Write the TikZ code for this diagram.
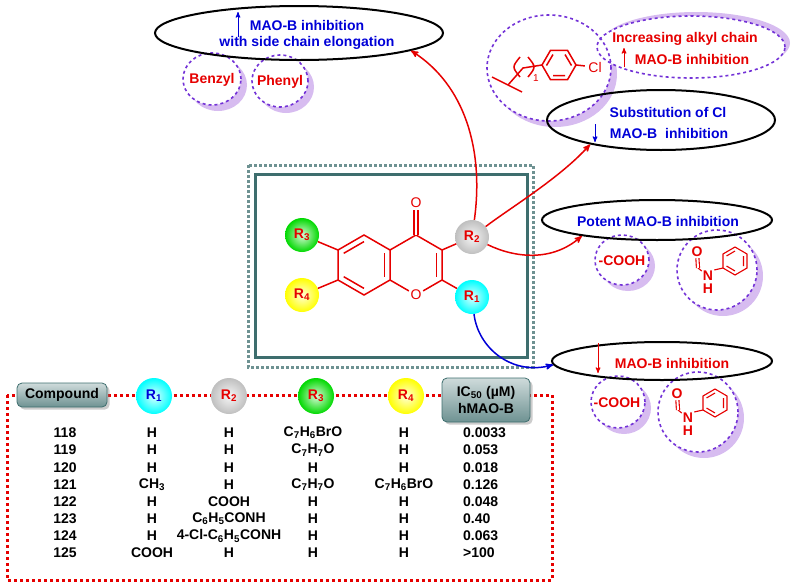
\documentclass[tikz,border=0pt]{standalone}
\usepackage{fontspec}
\setmainfont{Liberation Sans}
\usetikzlibrary{arrows,shapes,shadows,calc}

\definecolor{mred}{RGB}{230,0,0}
\definecolor{mblue}{RGB}{0,0,215}
\definecolor{mviolet}{RGB}{115,50,215}
\definecolor{mshade}{RGB}{215,188,240}
\definecolor{mteal}{RGB}{62,110,110}

\begin{document}
\begin{tikzpicture}[x=1pt,y=-1pt,>=stealth',font=\fontsize{14}{17}\selectfont\bfseries]
  \tikzset{
    oval/.style={ellipse,draw,line width=2pt,inner sep=0pt},
    dring/.style={ellipse,draw=mviolet,dashed,line width=1.6pt,inner sep=0pt},
    rball/.style={circle,inner sep=0pt,minimum size=34pt,shading=radial,inner color=#1!15!white,outer color=#1},
    bond/.style={mred,line width=1.5pt},
    link/.style={->,line width=1.5pt},
    hbox/.style={rounded corners=5pt,draw=mteal,line width=0.8pt,top color=mteal!25!white,bottom color=mteal!75,drop shadow={opacity=0.4}},
    mini/.style={->,line width=1pt}
  }
  \useasboundingbox (0,0) rectangle (793,587);

  % shaded rings round the side groups
  \foreach \x/\y/\w/\h/\sx/\sy in {212/79/58/52/6/6, 280/81/56/52/6/6, 549/68/124/106/6/6,
      691/47/188/62/5/-4, 622/260/54/50/6/6, 717/270/80/80/6/6, 618/402/54/52/6/6, 698/412/80/80/6/6} {
    \fill[mshade] (\x+\sx,\y+\sy) ellipse [x radius=\w/2, y radius=\h/2];
    \fill[white] (\x,\y) ellipse [x radius=\w/2, y radius=\h/2];
  }
  \foreach \n/\x/\y/\w/\h in {bz/212/79/58/52, ph/280/81/56/52, fr/549/68/124/106, inc/691/47/188/62,
      ca/622/260/54/50, aa/717/270/80/80, cb/618/402/54/52, ab/698/412/80/80}
    \node[dring,minimum width=\w pt,minimum height=\h pt] (\n) at (\x,\y) {};

  % black ovals
  \node[oval,minimum width=288pt,minimum height=54pt] (top) at (299,33) {};
  \node[oval,minimum width=228pt,minimum height=60pt] (sub) at (661,120) {};
  \node[oval,minimum width=230pt,minimum height=40pt] (pot) at (657,220) {};
  \node[oval,minimum width=220pt,minimum height=38pt] (low) at (662,361) {};

  % texts
  \node[mblue] (t1) at (307,25) {MAO-B inhibition};
  \node[mblue] (t2) at (307,43) {with side chain elongation};
  \draw[mini,mblue] (238,37) -- (238,12);
  \node[mred] (t3) at (212,80) {Benzyl};
  \node[mred] (t4) at (280,82) {Phenyl};
  \node[mred] (t5) at (685,39) {Increasing alkyl chain};
  \node[mred] (t6) at (692,59) {MAO-B inhibition};
  \draw[mini,mred] (624,67) -- (624,48);
  \node[mblue] (t7) at (668,112) {Substitution of Cl};
  \node[mblue] (t8) at (669,133) {MAO-B\ \ inhibition};
  \draw[mini,mblue] (595,124) -- (595,142);
  \node[mblue] (t9) at (658,221) {Potent MAO-B inhibition};
  \node[mred] (t10) at (672,363) {MAO-B inhibition};
  \draw[mini,mred] (598,343) -- (598,373);
  \node[mred] (t11) at (622,261) {-COOH};
  \node[mred] (t12) at (617,403) {-COOH};

  % 4-chlorobenzyl fragment
  \draw[bond] (492,77) -- (522,92);
  \draw[bond] (508,85) -- (523,68) -- (542,65);
  \draw[bond] (520,57) .. controls (512,67) .. (520,77);
  \draw[bond] (528,57) .. controls (536,67) .. (528,77);
  \node[mred,font=\fontsize{10}{12}\selectfont] (sub1) at (536,78) {1};
  \draw[bond] (542,65) -- (550.5,50.3) -- (567.5,50.3) -- (576,65) -- (567.5,79.7) -- (550.5,79.7) -- cycle;
  \draw[bond] (546.5,65.5) -- (553,54.5) (553,75.5) -- (565,75.5) (565,54.5) -- (571.5,65.5);
  \node[mred,font=\fontsize{14}{17}\selectfont] (cl) at (595,67) {Cl};
  \draw[bond] (576,65) -- (cl);

  % benzanilide type groups
  \foreach \dx/\dy/\k in {0/0/a,-20/142/b} {
    \begin{scope}[shift={(\dx,\dy)}]
      \node[mred,inner sep=1pt] (o\k) at (697,252) {O};
      \node[mred,inner sep=1pt] (n\k) at (708,276) {N};
      \node[mred,inner sep=1pt] (h\k) at (708,289) {H};
      \coordinate (f\k) at (698,268);
      \draw[bond,line width=1.1pt] (723,268) -- (723,254) -- (735,247) -- (747,254) -- (747,268) -- (735,275) -- cycle;
      \draw[bond,line width=1.1pt] (726.5,256) -- (735,251) (743.5,256) -- (743.5,266) (726.5,266) -- (735,271);
      \draw[bond,line width=1.1pt] (n\k.north east) -- (723,268);
      \draw[bond,line width=1.1pt] (f\k) -- (n\k);
      \draw[bond,line width=1.1pt,double,double distance=2pt] (f\k) -- (o\k);
    \end{scope}
  }

  % scaffold frame
  \draw[mteal!75,line width=3pt,dash pattern=on 3pt off 2pt] (248,165) rectangle (533,367);
  \draw[mteal,line width=3pt] (255,174) rectangle (527,357);

  % chromone core
  \coordinate (bc) at (364,265);
  \coordinate (pc) at (416,265);
  \coordinate (c5) at (364,235);
  \coordinate (c6) at (338,250);
  \coordinate (c7) at (338,280);
  \coordinate (c8) at (364,295);
  \coordinate (c8a) at (390,280);
  \coordinate (c4a) at (390,250);
  \coordinate (c4) at (416,235);
  \coordinate (c3) at (442,250);
  \coordinate (c2) at (442,280);
  \node[mred,font=\fontsize{14}{17}\selectfont,inner sep=1.5pt] (o1) at (416,295) {O};
  \node[mred,font=\fontsize{14}{17}\selectfont,inner sep=1.5pt] (o4) at (416,203) {O};
  \draw[bond] (c4a) -- (c5) -- (c6) -- (c7) -- (c8) -- (c8a) -- cycle;
  \draw[bond] (c4a) -- (c4) -- (c3) -- (c2) -- (o1) -- (c8a);
  \draw[bond] ($(bc)!.78!(c5)$) -- ($(bc)!.78!(c6)$);
  \draw[bond] ($(bc)!.78!(c7)$) -- ($(bc)!.78!(c8)$);
  \draw[bond] ($(bc)!.78!(c8a)$) -- ($(bc)!.78!(c4a)$);
  \draw[bond] ($(pc)!.78!(c3)$) -- ($(pc)!.78!(c2)$);
  \draw[bond,double,double distance=2.5pt] (c4) -- (o4);

  \node[rball=cyan] (r1) at (472,297) {\color{mred}R\textsubscript{1}};
  \node[rball=lightgray] (r2) at (472,237) {\color{mred}R\textsubscript{2}};
  \node[rball=green!85!black] (r3) at (302,235) {\color{mred}R\textsubscript{3}};
  \node[rball=yellow] (r4) at (302,295) {\color{mred}R\textsubscript{4}};
  \draw[bond] (c2) -- (r1);
  \draw[bond] (c3) -- (r2);
  \draw[bond] (c6) -- (r3);
  \draw[bond] (c7) -- (r4);

  % SAR arrows
  \draw[link,mred] (r2) .. controls (484,150) and (465,85) .. (top.-9);
  \draw[link,mred] (r2) .. controls (510,208) and (560,178) .. (sub.-161);
  \draw[link,mred] (r2) .. controls (515,258) and (552,262) .. (pot.-168);
  \draw[link,mblue] (r1) .. controls (478,348) and (512,376) .. (low.-178);

  % table
  \draw[mred,line width=3pt,dash pattern=on 3pt off 3pt] (7,395) rectangle (552,580);
  \node[hbox,minimum width=90pt,minimum height=24pt] (hcomp) at (62,395) {Compound};
  \node[rball=cyan,minimum size=36pt] (h1) at (154,396) {\color{mblue}R\textsubscript{1}};
  \node[rball=lightgray,minimum size=36pt] (h2) at (229,396) {\color{mred}R\textsubscript{2}};
  \node[rball=green!85!black,minimum size=36pt] (h3) at (316,396) {\color{mred}R\textsubscript{3}};
  \node[rball=yellow,minimum size=36pt] (h4) at (406,396) {\color{mred}R\textsubscript{4}};
  \node[hbox,minimum width=88pt,minimum height=44pt,align=center] (hic) at (486,400) {IC\textsubscript{50} (µM)\\hMAO-B};

  \foreach \c/\a/\b/\d/\e/\v [count=\i from 0] in {
      118/H/H/C\textsubscript{7}H\textsubscript{6}BrO/H/0.0033,
      119/H/H/C\textsubscript{7}H\textsubscript{7}O/H/0.053,
      120/H/H/H/H/0.018,
      121/CH\textsubscript{3}/H/C\textsubscript{7}H\textsubscript{7}O/C\textsubscript{7}H\textsubscript{6}BrO/0.126,
      122/H/COOH/H/H/0.048,
      123/H/C\textsubscript{6}H\textsubscript{5}CONH/H/H/0.40,
      124/H/4-Cl-C\textsubscript{6}H\textsubscript{5}CONH/H/H/0.063,
      125/COOH/H/H/H/>100} {
    \node (k\i) at (65,433+17.15*\i) {\c};
    \node (a\i) at (152,433+17.15*\i) {\a};
    \node (b\i) at (229,433+17.15*\i) {\b};
    \node (d\i) at (313,433+17.15*\i) {\d};
    \node (e\i) at (404,433+17.15*\i) {\e};
    \node[anchor=west,inner sep=0pt] (v\i) at (463,433+17.15*\i) {\v};
  }
\end{tikzpicture}
\end{document}
